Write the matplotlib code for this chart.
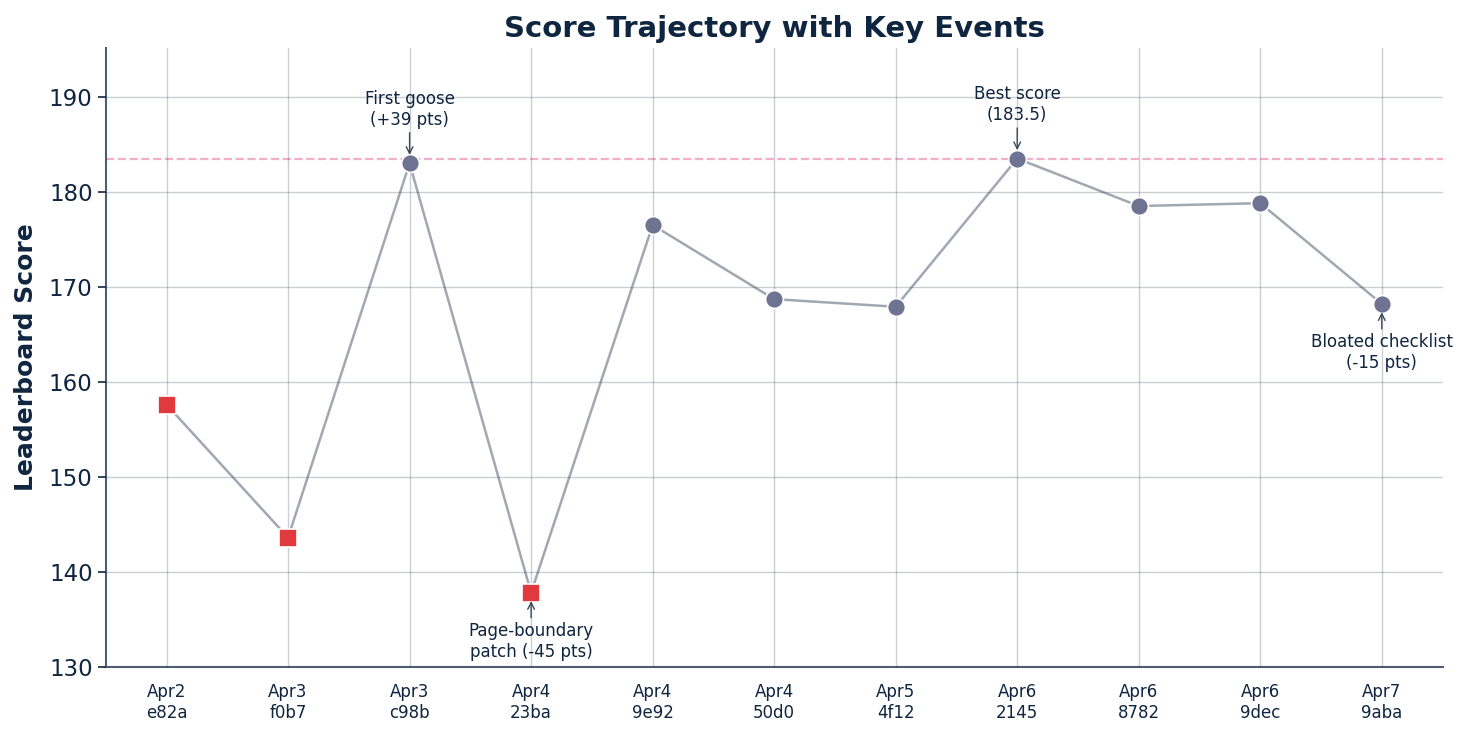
import numpy as np
import matplotlib.pyplot as plt

labels = ['Apr2\ne82a', 'Apr3\nf0b7', 'Apr3\nc98b', 'Apr4\n23ba', 'Apr4\n9e92', 'Apr4\n50d0',
          'Apr5\n4f12', 'Apr6\n2145', 'Apr6\n8782', 'Apr6\n9dec', 'Apr7\n9aba']
scores = [157.6, 143.6, 183.0, 137.8, 176.5, 168.7, 167.9, 183.5, 178.5, 178.8, 168.2]
regressed = [True, True, False, True, False, False, False, False, False, False, False]
best_score = 183.5

# (index, text, above?)
events = [(2, 'First goose\n(+39 pts)', True),
          (3, 'Page-boundary\npatch (-45 pts)', False),
          (7, 'Best score\n(183.5)', True),
          (10, 'Bloated checklist\n(-15 pts)', False)]

navy = '#0f2540'

fig = plt.figure(figsize=(14.69, 7.36), dpi=100)
ax = fig.add_axes([0.072, 0.094, 0.910, 0.841])

x = np.arange(len(scores))
y = np.array(scores)
mask = np.array(regressed)

ax.plot(x, y, color='#a0a8b2', lw=1.8, zorder=2)
ax.axhline(best_score, color='#f4afc8', ls='--', lw=1.6, zorder=1)
ax.scatter(x[~mask], y[~mask], marker='o', s=165, color='#6e7391',
           edgecolor='white', linewidth=1.2, zorder=3)
ax.scatter(x[mask], y[mask], marker='s', s=160, color='#e0393e',
           edgecolor='white', linewidth=1.2, zorder=3)

for i, txt, above in events:
    off = 25 if above else -21
    ax.annotate(txt, xy=(x[i], y[i]), xytext=(0, off), textcoords='offset points',
                ha='center', va='bottom' if above else 'top', fontsize=12, color=navy,
                arrowprops=dict(arrowstyle='->', color='#3a4a5a', lw=1,
                                shrinkA=1, shrinkB=6), zorder=4)

ax.set_xlim(-0.5, len(scores) - 0.5)
ax.set_ylim(130, 195.15)
ax.set_xticks(x)
ax.set_xticklabels(labels, fontsize=12, color=navy)
ax.set_yticks(np.arange(130, 191, 10))
ax.tick_params(axis='y', labelsize=16.5, colors=navy, length=6, width=1.2)
ax.tick_params(axis='x', length=0, pad=12)
for lab in ax.get_yticklabels():
    lab.set_color(navy)

ax.grid(True, color='#34404e', alpha=0.25, lw=1)
ax.set_axisbelow(False)
for sp in ['top', 'right']:
    ax.spines[sp].set_visible(False)
for sp in ['left', 'bottom']:
    ax.spines[sp].set_color('#4f5d70')
    ax.spines[sp].set_linewidth(1.5)

ax.set_ylabel('Leaderboard Score', fontsize=18, fontweight='bold', color=navy, labelpad=8)
ax.set_title('Score Trajectory with Key Events', fontsize=21, fontweight='bold', color=navy, pad=8)

fig.savefig('out.png', dpi=100)
